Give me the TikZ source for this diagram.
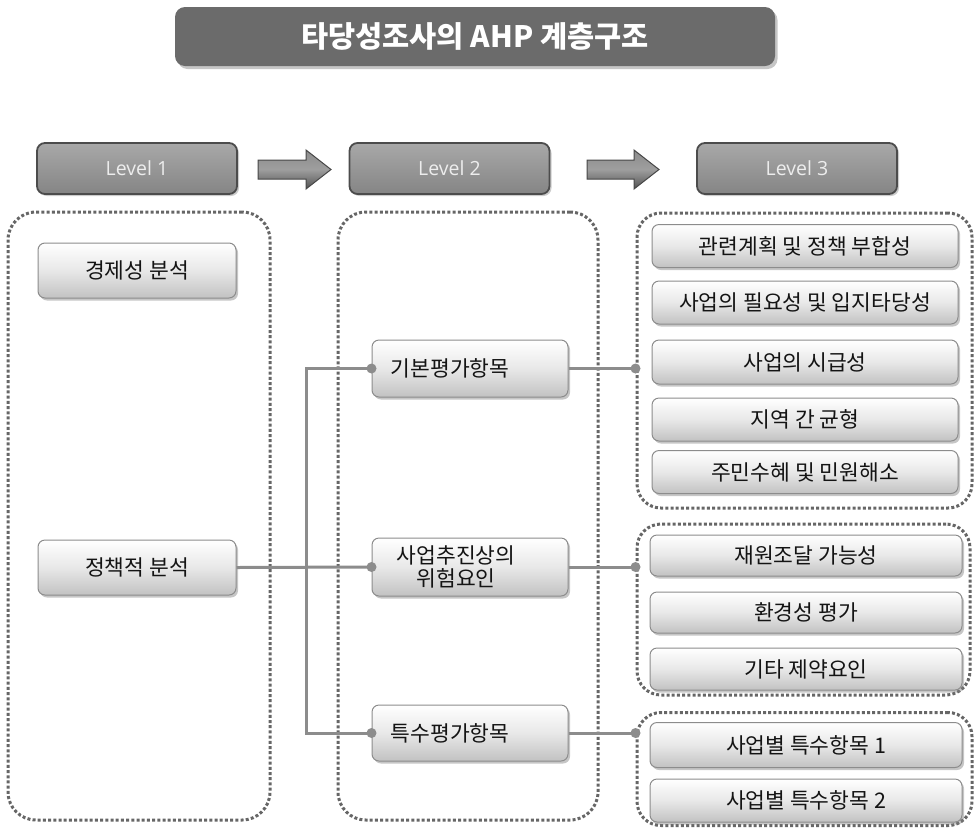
\documentclass[tikz,border=0pt]{standalone}
\usepackage{fontspec}
\newfontfamily\kr{Noto Sans CJK KR}
\newfontfamily\lat{Open Sans}
\usetikzlibrary{shadows}
\definecolor{linecol}{HTML}{8C8C8C}
\definecolor{dotcol}{HTML}{666666}
\definecolor{titlecol}{HTML}{6B6B6B}
\tikzset{
  kbox/.style={draw=black!45, line width=1pt, rounded corners=7pt,
    top color=white, bottom color=black!24, middle color=black!9,
    drop shadow={opacity=0.45, shadow xshift=2pt, shadow yshift=-2.5pt},
    font=\kr\fontsize{21.5}{24}\selectfont, text=black!92, inner sep=0pt, align=center},
  ktext/.style={font=\kr\fontsize{21.5}{24}\selectfont, text=black!92, inner sep=0pt, align=center},
  lvbox/.style={draw=black!70, line width=1.8pt, rounded corners=8pt,
    top color=black!34, bottom color=black!48,
    drop shadow={opacity=0.4, shadow xshift=2pt, shadow yshift=-2pt},
    font=\lat\fontsize{19.5}{21}\selectfont, text=white!93!black, minimum width=200pt, minimum height=51pt},
  dotbox/.style={draw=dotcol, line width=3pt, dash pattern=on 3pt off 2.2pt, rounded corners=28pt, inner sep=0pt},
  conn/.style={draw=linecol, line width=3pt},
  blk/.style={draw=black!72, line width=1pt, top color=black!45, bottom color=black!68, middle color=black!38},
}
\begin{document}
\begin{tikzpicture}[x=1pt,y=-1pt]
\useasboundingbox (0,0) rectangle (976,828);
% title
\node[fill=titlecol, rounded corners=10pt, minimum width=600pt, minimum height=59pt,
  drop shadow={opacity=0.45, shadow xshift=2.5pt, shadow yshift=-3pt},
  text=white, font=\kr\bfseries\fontsize{29.5}{32}\selectfont] (title) at (475,36.5) {타당성조사의 AHP 계층구조};
% level headings
\node[lvbox] (lv1) at (137,168.5) {Level 1};
\node[lvbox] (lv2) at (449.5,168.5) {Level 2};
\node[lvbox] (lv3) at (797,168.5) {Level 3};
% block arrows
\path[blk] (258,160) -- (306,160) -- (306,150) -- (331,169.5) -- (306,189) -- (306,179) -- (258,179) -- cycle;
\path[blk] (587,160) -- (634,160) -- (634,150) -- (659,169.5) -- (634,189) -- (634,179) -- (587,179) -- cycle;
% dotted containers
\node[dotbox, minimum width=262pt, minimum height=608pt] (c1) at (139,516) {};
\node[dotbox, minimum width=260pt, minimum height=608pt] (c2) at (468,516) {};
\node[dotbox, rounded corners=24pt, minimum width=335pt, minimum height=295pt] (g1) at (804.5,360.5) {};
\node[dotbox, rounded corners=24pt, minimum width=333pt, minimum height=171pt] (g2) at (803.5,609.5) {};
\node[dotbox, rounded corners=24pt, minimum width=335pt, minimum height=113pt] (g3) at (804.5,769) {};
% connectors
\coordinate (jn) at (306,567);
\draw[conn] (372,368.5) -| (jn) |- (372,733);
% level 1
\node[kbox, minimum width=198pt, minimum height=55pt] (econ) at (137,270.5) {경제성 분석};
\node[kbox, minimum width=198pt, minimum height=55pt] (policy) at (137,567.5) {정책적 분석};
% level 2
\node[kbox, minimum width=196pt, minimum height=57pt] (basic) at (470,368.5) {};
\node[ktext] (basicT) at ([xshift=-20pt]basic.center) {기본평가항목};
\node[kbox, minimum width=196pt, minimum height=58pt] (risk) at (470,567) {};
\node[ktext, font=\kr\fontsize{21.5}{23}\selectfont] (riskT) at ([xshift=-14pt]risk.center) {사업추진상의\\위험요인};
\node[kbox, minimum width=196pt, minimum height=56pt] (special) at (470,733) {};
\node[ktext] (specialT) at ([xshift=-20pt]special.center) {특수평가항목};
\draw[conn] (policy.east) -- (risk.west);
\draw[conn] (basic.east) -- (basic.east -| g1.west);
\draw[conn] (risk.east) -- (risk.east -| g2.west);
\draw[conn] (special.east) -- (special.east -| g3.west);
\fill[linecol] (basic.west) circle (5pt);
\fill[linecol] (risk.west) circle (5pt);
\fill[linecol] (special.west) circle (5pt);
\fill[linecol] (basic.east -| g1.west) circle (5pt);
\fill[linecol] (risk.east -| g2.west) circle (5pt);
\fill[linecol] (special.east -| g3.west) circle (5pt);
% level 3
\node[kbox, minimum width=306pt, minimum height=43pt] (a1) at (805,246) {관련계획 및 정책 부합성};
\node[kbox, minimum width=306pt, minimum height=43pt] (a2) at (805,302.5) {사업의 필요성 및 입지타당성};
\node[kbox, minimum width=306pt, minimum height=44pt] (a3) at (805,362) {사업의 시급성};
\node[kbox, minimum width=306pt, minimum height=43pt] (a4) at (805,419.5) {지역 간 균형};
\node[kbox, minimum width=306pt, minimum height=43pt] (a5) at (805,472) {주민수혜 및 민원해소};
\node[kbox, minimum width=312pt, minimum height=41pt] (b1) at (806,555.5) {재원조달 가능성};
\node[kbox, minimum width=312pt, minimum height=41pt] (b2) at (806,612.5) {환경성 평가};
\node[kbox, minimum width=312pt, minimum height=42pt] (b3) at (806,669) {기타 제약요인};
\node[kbox, minimum width=312pt, minimum height=45pt] (s1) at (806,745) {사업별 특수항목 1};
\node[kbox, minimum width=312pt, minimum height=43pt] (s2) at (806,800.5) {사업별 특수항목 2};
\end{tikzpicture}
\end{document}
